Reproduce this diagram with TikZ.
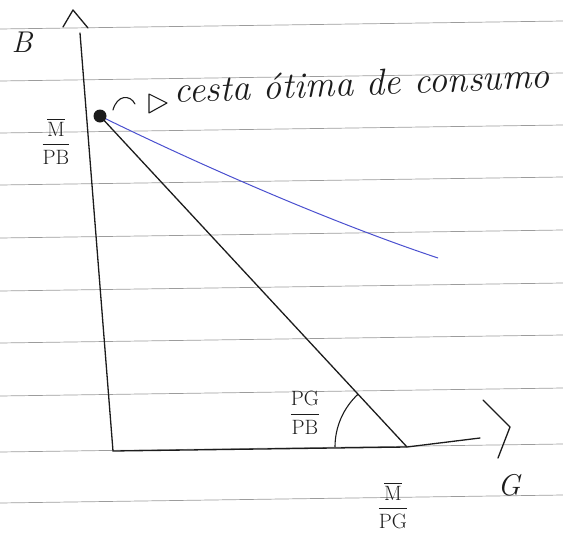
\documentclass[tikz,border=0pt]{standalone}
\usepackage{amsmath}
\usepackage{tikz}
\usetikzlibrary{arrows.meta,positioning,calc}
\definecolor{cInk} {HTML}{1C1C1C}
\definecolor{cRule}{HTML}{9C9C9C}
\definecolor{cCurv}{HTML}{4B50CF}
\tikzset{
  axisln/.style ={draw=cInk,line width=1.3pt,line cap=round},
  chev/.style   ={draw=cInk,line width=1.3pt,line join=round,line cap=round},
  budget/.style ={draw=cInk,line width=1.3pt},
  indiff/.style ={draw=cCurv,line width=1pt},
  ruled/.style  ={draw=cRule,line width=0.7pt},
  axlbl/.style  ={font=\fontsize{30}{32}\selectfont\itshape,text=cInk,inner sep=0pt},
  fraclbl/.style={font=\fontsize{22}{24}\selectfont,text=cInk,inner sep=1pt},
  note/.style   ={font=\fontsize{37}{40}\selectfont\itshape,text=cInk,inner sep=0pt},
}
\newcommand{\hfrac}[2]{$\dfrac{#1}{\mathrm{#2}}$}

\begin{document}
\begin{tikzpicture}[x=1pt, y=1pt]
\useasboundingbox (0,0) rectangle (563,-544);

% ===== ruled paper =========================================================
\foreach \yl in {29,81,133,185,238,291,343,396,452,503}
  \draw[ruled] (0,-\yl) -- (563,-\yl+8);

% ===== axes ================================================================
\coordinate (ytop)   at (80,-33);
\coordinate (origin) at (113,-451);
\coordinate (mgPt)   at (407,-447);
\coordinate (xend)   at (480,-438);
\draw[axisln] (ytop) -- (origin) -- (mgPt) -- (xend);
\draw[chev] (63,-27) -- (73,-10) -- (88,-28);
\draw[chev] (483,-400) -- (510,-427) -- (498,-458);
\node[axlbl] (lblB) at (22,-42) {B};
\node[axlbl] (lblG) at (509,-485) {G};

% ===== budget line and optimum =============================================
\coordinate (optPt) at (100,-116);
\draw[budget] (optPt) -- (mgPt);
\draw[indiff] (optPt) .. controls (200,-165) and (330,-222) .. (438,-258);
\fill[cInk] (optPt) circle (6.5);
\draw[budget,line width=1.1pt] ($(mgPt)+(132.8:72)$) arc (132.8:180:72);

% ===== labels ==============================================================
\node[fraclbl] (mpb) at (56,-141) {\hfrac{\overline{\mathrm{M}}}{PB}};
\node[fraclbl] (mpg) at (393,-505) {\hfrac{\overline{\mathrm{M}}}{PG}};
\node[fraclbl] (slope) at (305,-413) {\hfrac{\mathrm{PG}}{PB}};

% ===== note ================================================================
\draw[chev,line width=1.1pt] (113,-110) .. controls (117,-95) and (130,-94) .. (135,-104);
\draw[chev,line width=1.1pt] (149,-94) -- (167,-103) -- (149,-113) -- cycle;
\node[note,anchor=base west,rotate=2.3] (opt) at (174,-103) {cesta ótima de consumo};
\end{tikzpicture}
\end{document}
